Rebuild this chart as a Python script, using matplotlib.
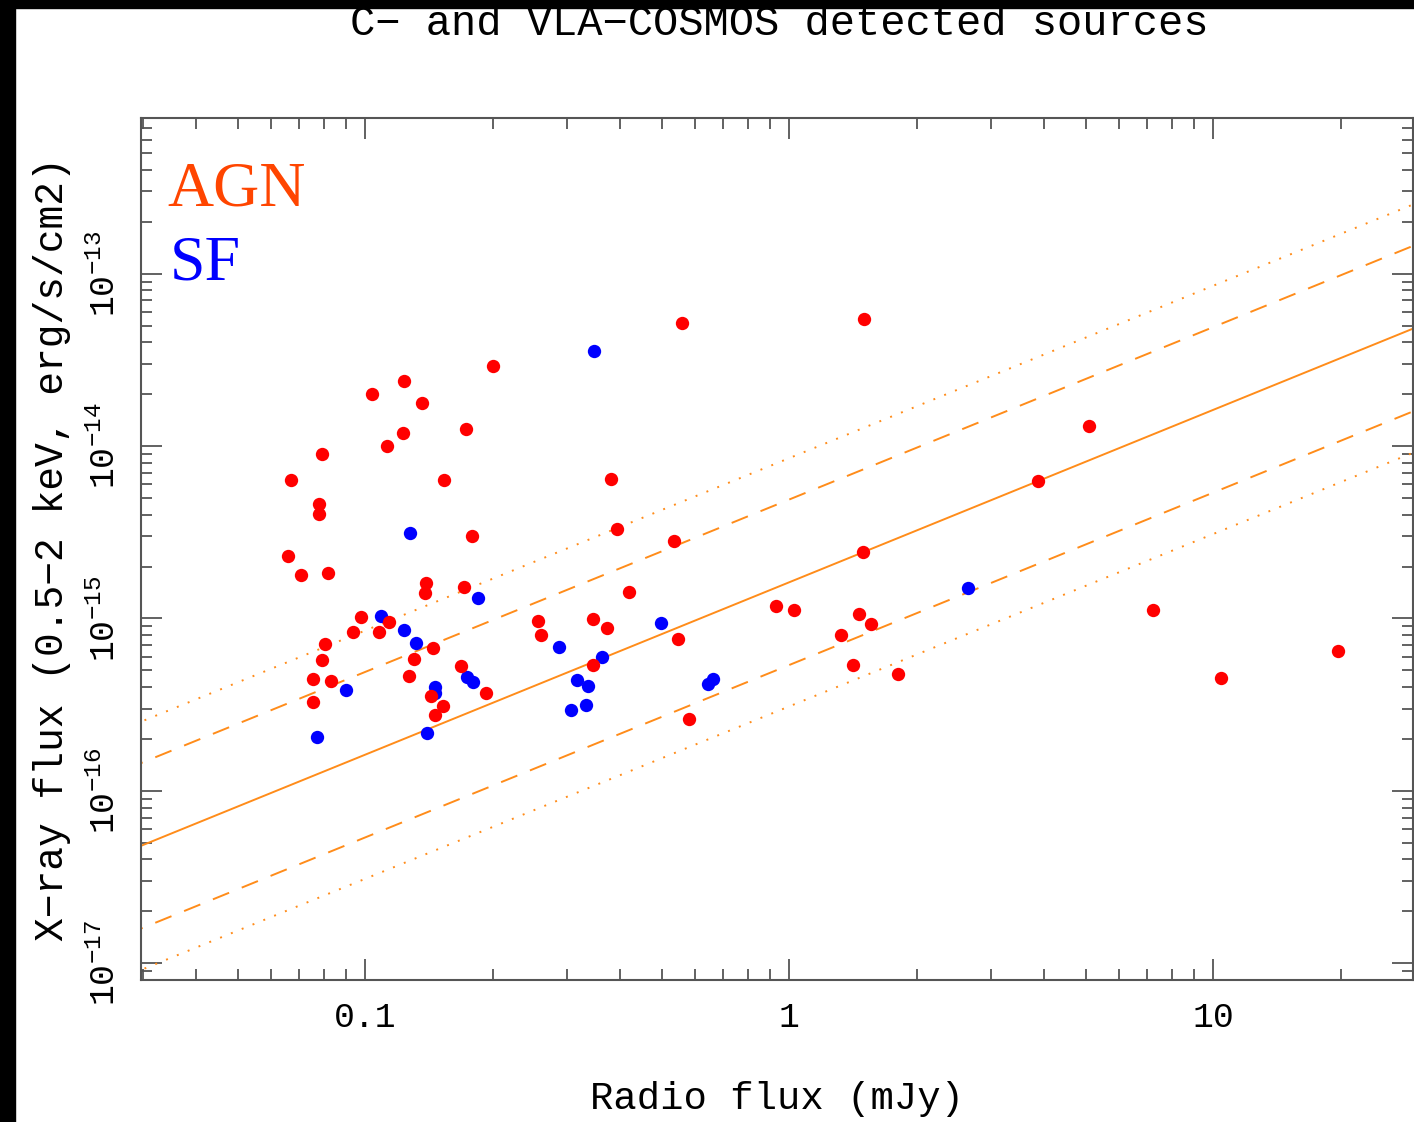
import matplotlib
matplotlib.use("Agg")
import matplotlib.pyplot as plt
from matplotlib.patches import Rectangle
import numpy as np

# ---------------- data ----------------
agn_radio = [0.560, 1.503, 0.2003, 0.1236, 0.1040, 0.1365, 0.1733, 0.1229, 0.1127, 0.0792,
             0.0669, 0.1536, 0.381, 0.0779, 0.0779, 0.3929, 0.1788, 0.534, 0.0656, 1.492,
             0.0705, 0.0818, 0.1395, 0.1385, 0.1712, 0.4195, 5.087, 3.855, 0.932, 1.026,
             7.23, 1.463, 1.561, 1.327, 1.416, 1.804, 10.44, 19.68, 0.2559, 0.2597,
             0.3449, 0.3716, 0.5463, 0.3455, 0.5818, 0.098, 0.0934, 0.108, 0.1141, 0.0806,
             0.0792, 0.0755, 0.083, 0.0754, 0.1307, 0.1266, 0.1445, 0.1684, 0.1932, 0.1427,
             0.1528, 0.1465]
agn_xray = [5.15e-14, 5.46e-14, 2.91e-14, 2.38e-14, 2.0e-14, 1.79e-14, 1.25e-14, 1.19e-14, 1.0e-14, 8.98e-15,
            6.34e-15, 6.37e-15, 6.46e-15, 4.62e-15, 4.03e-15, 3.31e-15, 3.02e-15, 2.81e-15, 2.31e-15, 2.43e-15,
            1.79e-15, 1.84e-15, 1.61e-15, 1.41e-15, 1.52e-15, 1.42e-15, 1.30e-14, 6.26e-15, 1.18e-15, 1.12e-15,
            1.12e-15, 1.06e-15, 9.33e-16, 8.05e-16, 5.35e-16, 4.78e-16, 4.51e-16, 6.45e-16, 9.71e-16, 7.99e-16,
            9.97e-16, 8.77e-16, 7.57e-16, 5.39e-16, 2.61e-16, 1.02e-15, 8.32e-16, 8.40e-16, 9.48e-16, 7.13e-16,
            5.73e-16, 4.45e-16, 4.32e-16, 3.30e-16, 5.83e-16, 4.61e-16, 6.74e-16, 5.33e-16, 3.71e-16, 3.55e-16,
            3.10e-16, 2.75e-16]

sf_radio = [0.3463, 0.1279, 0.185, 0.1089, 0.1236, 0.1319, 0.2863, 0.4996, 0.3628, 0.0903,
            0.1742, 0.18, 0.1465, 0.1465, 0.3167, 0.3351, 0.3056, 0.332, 0.0768, 0.1396,
            2.648, 0.645, 0.6607]
sf_xray = [3.56e-14, 3.13e-15, 1.32e-15, 1.03e-15, 8.57e-16, 7.24e-16, 6.81e-16, 9.45e-16, 6.0e-16, 3.83e-16,
           4.56e-16, 4.28e-16, 3.99e-16, 3.68e-16, 4.38e-16, 4.06e-16, 2.95e-16, 3.15e-16, 2.06e-16, 2.17e-16,
           1.50e-15, 4.17e-16, 4.44e-16]

# correlation line: log Fx = log Fr + intercept, plus offsets
line_radio = [0.02, 40.0]
line_intercept = -14.79
dashed_offsets = [0.48, -0.48]
dotted_offsets = [0.72, -0.72]

xticks = [0.1, 1, 10]
xticklabels = ["0.1", "1", "10"]
yticks = [1e-17, 1e-16, 1e-15, 1e-14, 1e-13]
yticklabels = [r"$10^{-17}$", r"$10^{-16}$", r"$10^{-15}$", r"$10^{-14}$", r"$10^{-13}$"]

# ---------------- style ----------------
plt.rcParams['font.family'] = ['Liberation Mono', 'DejaVu Sans Mono']
plt.rcParams['mathtext.fontset'] = 'custom'
plt.rcParams['mathtext.rm'] = 'Liberation Mono'
plt.rcParams['mathtext.it'] = 'Liberation Mono'
plt.rcParams['mathtext.default'] = 'regular'

W, H = 1414, 1122
fig = plt.figure(figsize=(W / 100, H / 100), dpi=100)
fig.patch.set_facecolor('white')
ax = fig.add_axes([141 / W, 1 - 980 / H, (1413 - 141) / W, (980 - 118) / H])

orange = '#ff8c1a'
lr = np.array(line_radio)
ax.plot(lr, lr * 10 ** line_intercept, color=orange, lw=1.4, zorder=2)
for off in dashed_offsets:
    ax.plot(lr, lr * 10 ** (line_intercept + off), color=orange, lw=1.4,
            dashes=(9, 7), zorder=2)
for off in dotted_offsets:
    ax.plot(lr, lr * 10 ** (line_intercept + off), color=orange, lw=1.4,
            dashes=(1, 5), zorder=2)

ax.plot(sf_radio, sf_xray, 'o', color='#0000ff', ms=9.6, mec='none', zorder=3)
ax.plot(agn_radio, agn_xray, 'o', color='#ff0000', ms=9.6, mec='none', zorder=4)

ax.set_xscale('log')
ax.set_yscale('log')
ax.set_xlim(0.0296, 29.6)
ax.set_ylim(8e-18, 8e-13)

ax.set_xticks(xticks)
ax.set_xticklabels(xticklabels, fontsize=25)
ax.set_yticks(yticks)
ax.set_yticklabels(yticklabels, fontsize=25, rotation=90, va='center')

tick_col = '#555555'
ax.tick_params(which='both', direction='in', top=True, right=True, color=tick_col, width=1.3)
ax.tick_params(which='major', length=15)
ax.tick_params(which='minor', length=8)
ax.tick_params(axis='x', which='major', pad=15)
ax.tick_params(axis='y', which='major', pad=14)
for s in ax.spines.values():
    s.set_color(tick_col)
    s.set_linewidth(1.5)

ax.set_xlabel("Radio flux (mJy)", fontsize=28, labelpad=34)
ax.set_ylabel("X\u2212ray flux (0.5\u22122 keV, erg/s/cm2)", fontsize=28.5, labelpad=12)

fig.text(779 / W, 1 - 24 / H, "C\u2212 and VLA\u2212COSMOS detected sources",
         ha='center', va='center', fontsize=30.3)

fig.text(167 / W, 1 - 206 / H, "AGN", color='#ff4500', fontsize=46,
         family='Liberation Serif', ha='left', va='baseline')
fig.text(170 / W, 1 - 279 / H, "SF", color='#0000ff', fontsize=46,
         family='Liberation Serif', ha='left', va='baseline')

# black frame bands (left and top) as in the reference screenshot
fig.patches.append(Rectangle((0, 0), 15 / W, 1, transform=fig.transFigure,
                             color='black', zorder=10))
fig.patches.append(Rectangle((0, 1 - 8 / H), 1, 8 / H, transform=fig.transFigure,
                             color='black', zorder=10))

fig.savefig("out.png", dpi=100, facecolor='white')
